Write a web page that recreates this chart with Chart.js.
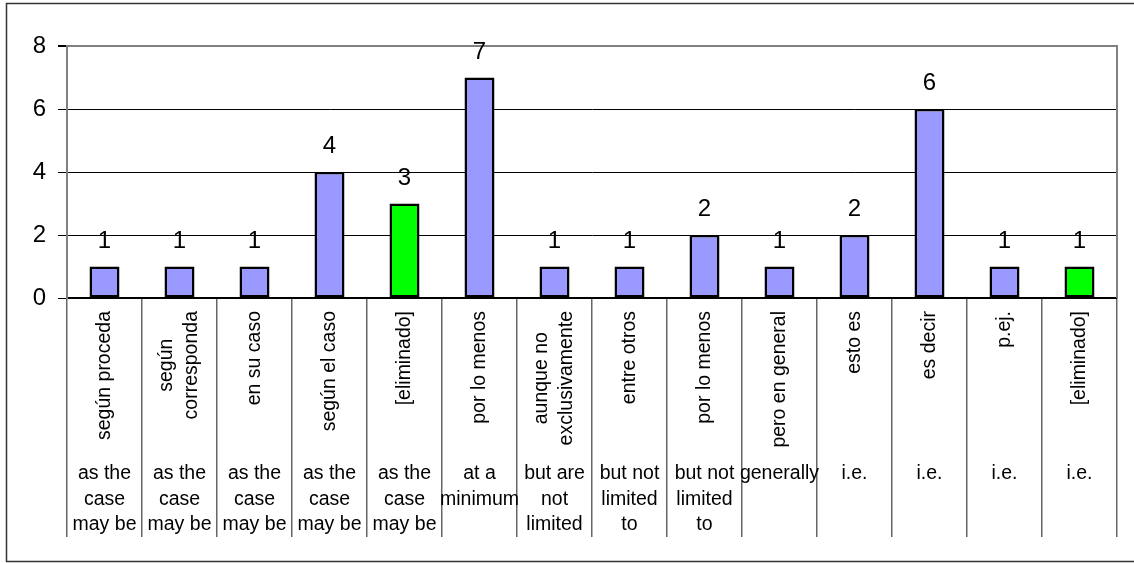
<!DOCTYPE html>
<html>
<head>
<meta charset="utf-8">
<script src="https://cdn.jsdelivr.net/npm/chart.js@4.4.1/dist/chart.umd.min.js"></script>
<style>
  body { margin: 0; background: #fff; }
  #wrap { width: 1134px; height: 563px; }
</style>
</head>
<body>
<div id="wrap"><canvas id="chart" width="1134" height="563"></canvas></div>
<script>
// spanish term (rotated, upper row) and english source term (lower row)
var spanishLabels = [
  ['según proceda'], ['según', 'corresponda'], ['en su caso'], ['según el caso'],
  ['[eliminado]'], ['por lo menos'], ['aunque no', 'exclusivamente'], ['entre otros'],
  ['por lo menos'], ['pero en general'], ['esto es'], ['es decir'], ['p.ej.'], ['[eliminado]']
]
var englishLabels = [
  ['as the', 'case', 'may be'], ['as the', 'case', 'may be'], ['as the', 'case', 'may be'],
  ['as the', 'case', 'may be'], ['as the', 'case', 'may be'], ['at a', 'minimum'],
  ['but are', 'not', 'limited'], ['but not', 'limited', 'to'], ['but not', 'limited', 'to'],
  ['generally'], ['i.e.'], ['i.e.'], ['i.e.'], ['i.e.']
]
var counts = [1, 1, 1, 4, 3, 7, 1, 1, 2, 1, 2, 6, 1, 1]
var yTicks = [0, 2, 4, 6, 8]

var fontFamily = 'Arial, "Liberation Sans", sans-serif'

var barColors = spanishLabels.map(function (l) {
  return l[0] == '[eliminado]' ? '#00FF00' : '#9999FF'
})

// frame, value labels and the two rows of category text
var extras = {
  id: 'extras',
  beforeDraw: function (chart) {
    var ctx = chart.ctx
    ctx.save()
    ctx.fillStyle = '#fff'
    ctx.fillRect(0, 0, chart.width, chart.height)
    ctx.strokeStyle = '#333'
    ctx.lineWidth = 1.5
    ctx.beginPath()
    ctx.moveTo(chart.width + 5, 3.5)
    ctx.lineTo(6.5, 3.5)
    ctx.lineTo(6.5, 561.5)
    ctx.lineTo(chart.width + 5, 561.5)
    ctx.stroke()
    ctx.restore()
  },
  afterDatasetsDraw: function (chart) {
    var ctx = chart.ctx
    var area = chart.chartArea
    var meta = chart.getDatasetMeta(0)
    ctx.save()

    // right edge of the plot
    ctx.strokeStyle = '#808080'
    ctx.lineWidth = 2
    ctx.beginPath()
    ctx.moveTo(area.right, area.top - 1)
    ctx.lineTo(area.right, area.bottom)
    ctx.stroke()

    ctx.fillStyle = '#000'
    ctx.font = '24px ' + fontFamily
    ctx.textAlign = 'center'
    ctx.textBaseline = 'alphabetic'
    meta.data.forEach(function (bar, i) {
      ctx.fillText(String(counts[i]), bar.x, bar.y - 19)
    })

    var xScale = chart.scales.x
    ctx.font = '19.5px ' + fontFamily
    var lineGap = 25

    spanishLabels.forEach(function (lines, i) {
      var cx = xScale.getPixelForValue(i)
      var maxW = 0
      lines.forEach(function (t) { maxW = Math.max(maxW, ctx.measureText(t).width) })
      var cy = 311 + maxW / 2
      lines.forEach(function (t, j) {
        var off = (j - (lines.length - 1) / 2) * lineGap
        ctx.save()
        ctx.translate(cx + off, cy)
        ctx.rotate(-Math.PI / 2)
        ctx.textAlign = 'center'
        ctx.textBaseline = 'middle'
        ctx.fillText(t, 0, 0)
        ctx.restore()
      })
    })

    englishLabels.forEach(function (lines, i) {
      var cx = xScale.getPixelForValue(i)
      lines.forEach(function (t, j) {
        ctx.textAlign = 'center'
        ctx.textBaseline = 'alphabetic'
        ctx.fillText(t, cx, 479 + j * 25.5)
      })
    })
    ctx.restore()
  }
}

var ctx = document.getElementById('chart').getContext('2d')

new Chart(ctx, {
  type: 'bar',
  data: {
    labels: spanishLabels.map(function (l) { return l.join(' ') }),
    datasets: [{
      data: counts,
      backgroundColor: barColors,
      borderColor: '#000',
      borderWidth: 2.5,
      borderSkipped: false,
      categoryPercentage: 1,
      barPercentage: 0.4
    }]
  },
  options: {
    responsive: false,
    animation: false,
    layout: { padding: { left: 0, top: 46, right: 17, bottom: 0 } },
    plugins: {
      legend: { display: false },
      tooltip: { enabled: false }
    },
    scales: {
      x: {
        offset: true,
        afterFit: function (s) { s.height = 265 },
        ticks: { display: false },
        border: { display: true, color: '#000', width: 1.5 },
        grid: {
          offset: true,
          drawOnChartArea: false,
          drawTicks: true,
          tickLength: 239,
          color: '#666',
          lineWidth: 1.5
        }
      },
      y: {
        min: 0,
        max: 8,
        afterFit: function (s) { s.width = 67 },
        afterBuildTicks: function (s) {
          s.ticks = yTicks.map(function (v) { return { value: v } })
        },
        ticks: {
          color: '#000',
          padding: 12,
          font: { family: fontFamily, size: 24 }
        },
        border: { display: true, color: '#808080', width: 2 },
        grid: {
          color: function (c) { return c.tick && c.tick.value == 8 ? '#808080' : '#000' },
          lineWidth: function (c) { return c.tick && c.tick.value == 8 ? 2 : 1 },
          tickColor: '#000',
          tickLength: 9
        }
      }
    }
  },
  plugins: [extras]
})
</script>
</body>
</html>
